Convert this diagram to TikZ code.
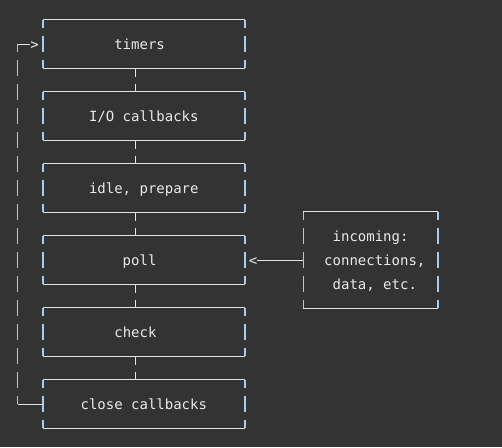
\documentclass[tikz,border=0pt]{standalone}
\usepackage{fontspec}
\newfontfamily\mono{DejaVu Sans Mono}
\definecolor{bg}{HTML}{333333}
\definecolor{fg}{HTML}{EAEAEA}
\definecolor{ln}{HTML}{E4E4E4}
\definecolor{vb}{HTML}{A8CCEE}
\definecolor{vo}{HTML}{EEB888}
\begin{document}
\begin{tikzpicture}[x=1pt,y=-1pt,
  box/.style={minimum width=201.6pt,minimum height=48pt,inner sep=0pt,draw=none},
  ibox/.style={minimum width=134.4pt,minimum height=96pt,inner sep=0pt,draw=none},
  txt/.style={font=\mono\fontsize{14}{16}\selectfont,text=fg,inner sep=0pt,anchor=base},
  hline/.style={draw=ln,line width=1pt},
  vbar/.style={line width=1.4pt,dash pattern=on 16.6pt off 7.4pt,dash phase=8.3pt},
  vblue/.style={vbar,draw=vb},
  vorange/.style={vbar,draw=vo},
  vwhite/.style={vbar,draw=ln}]
\useasboundingbox[fill=bg] (0,0) rectangle (502,447);

% main boxes
\node[box] (timers) at (143.8,44) {};
\node[box] (io)     at (143.8,116) {};
\node[box] (idle)   at (143.8,188) {};
\node[box] (poll)   at (143.8,260) {};
\node[box] (check)  at (143.8,332) {};
\node[box] (close)  at (143.8,404) {};
\node[ibox] (inc)   at (370.6,260) {};

\foreach \n in {timers,io,idle,poll,check,close}{
  \draw[hline] (\n.north west) -- (\n.north east);
  \draw[hline] (\n.south west) -- (\n.south east);
  \draw[vblue] (\n.north west) -- (\n.south west);
  \draw[vblue] (\n.north east) -- (\n.south east);
}
\draw[hline] (inc.north west) -- (inc.north east);
\draw[hline] (inc.south west) -- (inc.south east);
\draw[vorange] (inc.north west) -- (inc.south west);
\draw[vblue] (inc.north east) -- (inc.south east);

% texts
\node[txt] (ttimers) at (139.6,49.3) {timers};
\node[txt] (tio)     at (143.8,121.3) {I/O callbacks};
\node[txt] (tidle)   at (143.8,193.3) {idle, prepare};
\node[txt] (tpoll)   at (139.6,265.3) {poll};
\node[txt] (tcheck)  at (135.4,337.3) {check};
\node[txt] (tclose)  at (143.8,409.3) {close callbacks};
\node[txt] (tinc1)   at (370.6,241.3) {incoming:};
\node[txt] (tinc2)   at (374.8,265.3) {connections,};
\node[txt] (tinc3)   at (374.8,289.3) {data, etc.};

% connectors between phases
\foreach \a/\b in {timers/io,io/idle,idle/poll,poll/check,check/close}{
  \draw[vwhite] ([xshift=-8.4pt]\a.south) -- ([xshift=-8.4pt]\b.north);
}

% incoming arrow
\node[txt] (lt) at (253,265.3) {<};
\draw[hline] (inc.west) -- (inc.west -| lt.east);

% loop back
\node[txt] (gt) at (34.6,49.3) {>};
\coordinate (lb) at (17.7,404);
\coordinate (ltop) at (17.7,44);
\draw[hline] (close.west) -- (lb);
\draw[vorange] (lb) -- (ltop);
\draw[hline] (ltop) -- (ltop -| gt.west);
\end{tikzpicture}
\end{document}
